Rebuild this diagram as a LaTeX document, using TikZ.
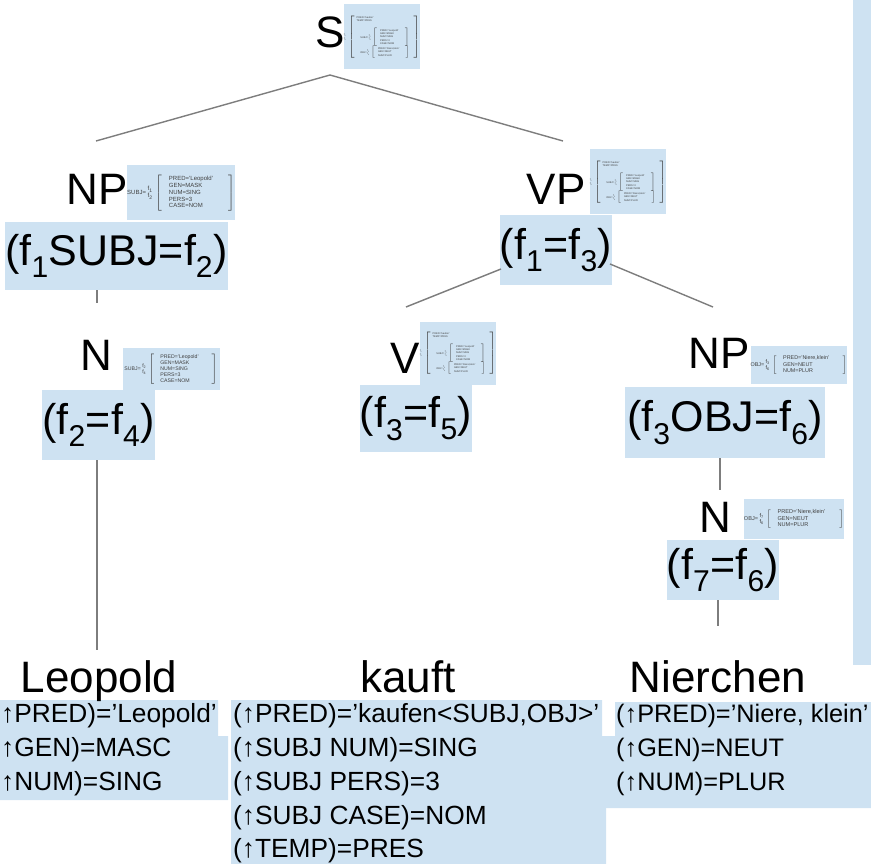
\documentclass[tikz,border=0pt]{standalone}
\usepackage{fontspec}
\setmainfont{Liberation Sans}
\definecolor{boxblue}{RGB}{206,226,242}
\definecolor{linegray}{RGB}{125,125,125}
\newcommand{\fstk}[2]{\begin{tabular}{@{}l@{}}f\textsubscript{#1}\\f\textsubscript{#2}\end{tabular}}
\newcommand{\brk}[1]{$\left[\begin{tabular}{@{\hspace{1.2em}}l@{\hspace{2.5em}}}#1\end{tabular}\right]$}
\newcommand{\subjavm}{SUBJ= \fstk{2}{4}\hspace{0.5em}\brk{PRED='Leopold'\\GEN=MASK\\NUM=SING\\PERS=3\\CASE=NOM}}
\newcommand{\objavm}{OBJ= \fstk{3}{6}\hspace{0.5em}\brk{PRED='Niere,klein'\\GEN=NEUT\\NUM=PLUR}}
\newcommand{\bigavm}{\fstk{1}{3}\hspace{0.8em}$\left[\begin{tabular}{@{\hspace{0.8em}}l@{\hspace{1.5em}}}PRED='kaufen'\\TEMP=PRES\\[6pt]
\hspace{1.5em}\subjavm\\[3pt]
\hspace{1.5em}\objavm
\end{tabular}\right]$}
\begin{document}
\begin{tikzpicture}[x=1pt,y=-1pt,
  lbl/.style={inner sep=0, anchor=base, font=\fontsize{44}{50}\selectfont},
  eqbox/.style={fill=boxblue, inner sep=0, font=\fontsize{43}{48}\selectfont},
  avmbox/.style={fill=boxblue, inner sep=0pt, text=black!75},
  eqtxt/.style={anchor=west, inner sep=0, font=\fontsize{26.3}{30}\selectfont},
  eqtxtr/.style={eqtxt, font=\fontsize{25.3}{30}\selectfont},
  tree/.style={draw=linegray, line width=1.4pt}]
\useasboundingbox (0,0) rectangle (871,864);
% right strip and bottom blocks
\fill[boxblue] (853,0) rectangle (871,665);
\fill[boxblue] (0,700) rectangle (218,736) (0,736) rectangle (228,800);
\fill[boxblue] (231,700) rectangle (602,736) (231,736) rectangle (606,864);
\fill[boxblue] (615,702) rectangle (871,736) (606,736) rectangle (871,808);
% category labels
\node[lbl] (s) at (330,48) {S};
\node[lbl] (np1) at (97,205) {NP};
\node[lbl] (vp) at (556,205) {VP};
\node[lbl] (n1) at (96,370) {N};
\node[lbl] (v) at (405,373) {V};
\node[lbl] (np2) at (719,368) {NP};
\node[lbl] (n2) at (715,532) {N};
% small f-structures
\node[avmbox, minimum width=60, minimum height=65, font=\fontsize{2.5}{3.2}\selectfont] (savm) at (382,37) {\bigavm};
\node[avmbox, minimum width=60, minimum height=65, font=\fontsize{2.5}{3.2}\selectfont] (vpavm) at (628,182) {\bigavm};
\node[avmbox, minimum width=60, minimum height=63, font=\fontsize{2.5}{3.2}\selectfont] (vavm) at (458,353) {\bigavm};
\node[avmbox, minimum width=96, minimum height=55, font=\fontsize{6}{6.8}\selectfont] (npavm) at (181,193) {SUBJ= \fstk{1}{2}\hspace{0.4em}\brk{PRED='Leopold'\\GEN=MASK\\NUM=SING\\PERS=3\\CASE=NOM}};
\node[avmbox, minimum width=97, minimum height=42, font=\fontsize{5.2}{6}\selectfont] (navm) at (171,369) {SUBJ= \fstk{2}{4}\hspace{0.4em}\brk{PRED='Leopold'\\GEN=MASK\\NUM=SING\\PERS=3\\CASE=NOM}};
\node[avmbox, minimum width=96, minimum height=38, font=\fontsize{5.4}{6.3}\selectfont] (np2avm) at (799,365) {OBJ= \fstk{3}{6}\hspace{0.4em}\brk{PRED='Niere,klein'\\GEN=NEUT\\NUM=PLUR}};
\node[avmbox, minimum width=93, minimum height=40, font=\fontsize{5.6}{6.4}\selectfont] (n2avm) at (794,519) {OBJ= \fstk{7}{6}\hspace{0.4em}\brk{PRED='Niere,klein'\\GEN=NEUT\\NUM=PLUR}};
% functional equations
\node[eqbox, minimum width=223, minimum height=68] (np1eq) at (116.5,256) {(f\textsubscript{1}SUBJ=f\textsubscript{2})};
\node[eqbox, minimum width=108, minimum height=70] (vpeq) at (556,250) {(f\textsubscript{1}=f\textsubscript{3})};
\node[eqbox, minimum width=107, minimum height=70] (n1eq) at (98.5,425) {(f\textsubscript{2}=f\textsubscript{4})};
\node[eqbox, minimum width=112, minimum height=67] (veq) at (416,418.5) {(f\textsubscript{3}=f\textsubscript{5})};
\node[eqbox, minimum width=200, minimum height=71] (np2eq) at (725,422.5) {(f\textsubscript{3}OBJ=f\textsubscript{6})};
\node[eqbox, minimum width=110, minimum height=60] (n2eq) at (723,570) {(f\textsubscript{7}=f\textsubscript{6})};
% words
\node[lbl] (w1) at (99,692) {Leopold};
\node[lbl] (w2) at (408,692) {kauft};
\node[lbl] (w3) at (718,692) {Nierchen};
% lexical entries
\node[eqtxt] (l1a) at (1,716) {↑PRED)=’Leopold’};
\node[eqtxt] (l1b) at (1,750) {↑GEN)=MASC};
\node[eqtxt] (l1c) at (1,784) {↑NUM)=SING};
\node[eqtxt] (l2a) at (233,716) {(↑PRED)=’kaufen<SUBJ,OBJ>’};
\node[eqtxt] (l2b) at (233,750) {(↑SUBJ NUM)=SING};
\node[eqtxt] (l2c) at (233,784) {(↑SUBJ PERS)=3};
\node[eqtxt] (l2d) at (233,818) {(↑SUBJ CASE)=NOM};
\node[eqtxt] (l2e) at (233,851) {(↑TEMP)=PRES};
\node[eqtxtr] (l3a) at (616,716) {(↑PRED)=’Niere, klein’};
\node[eqtxtr] (l3b) at (616,750) {(↑GEN)=NEUT};
\node[eqtxtr] (l3c) at (616,784) {(↑NUM)=PLUR};
% connector end points
\coordinate (sapex) at (330,75);
\coordinate (npL) at (96,141);
\coordinate (vpR) at (563,141);
\coordinate (np1a) at (97,290);
\coordinate (np1b) at (97,303);
\coordinate (n1a) at (97,460);
\coordinate (n1b) at (97,650);
\coordinate (vpl) at (501,269);
\coordinate (vtop) at (406,307);
\coordinate (vpr) at (610,264);
\coordinate (np2top) at (713,307);
\coordinate (np2a) at (720,458);
\coordinate (np2b) at (720,490);
\coordinate (n2a) at (718,600);
\coordinate (n2b) at (718,626);
\draw[tree] (npL) -- (sapex) -- (vpR);
\draw[tree] (np1a) -- (np1b);
\draw[tree] (n1a) -- (n1b);
\draw[tree] (vpl) -- (vtop);
\draw[tree] (vpr) -- (np2top);
\draw[tree] (np2a) -- (np2b);
\draw[tree] (n2a) -- (n2b);
\end{tikzpicture}
\end{document}
